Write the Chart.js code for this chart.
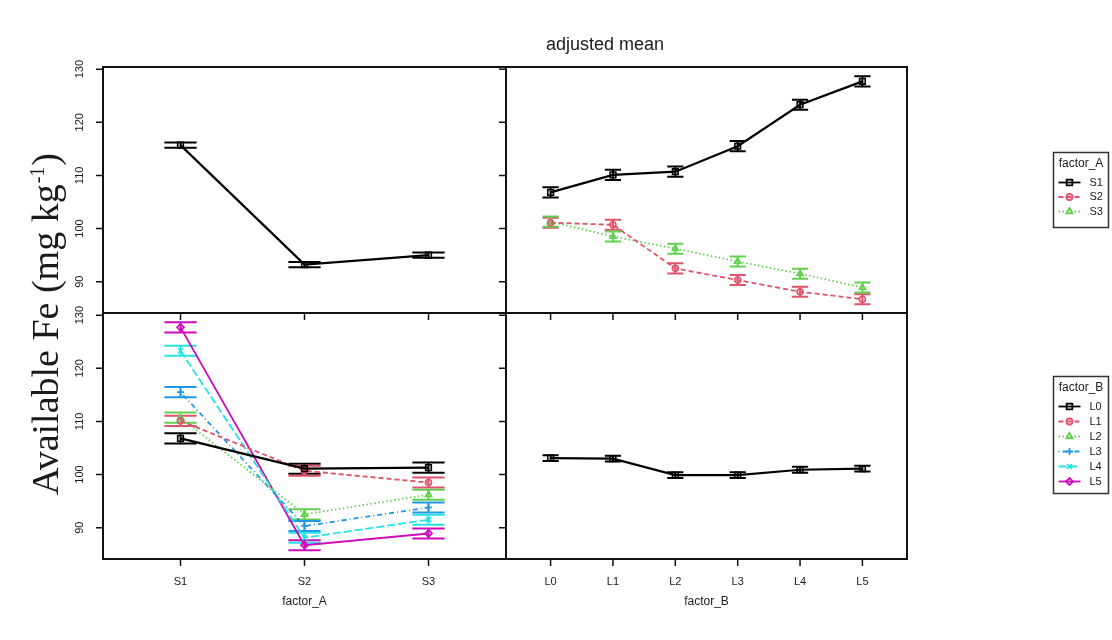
<!DOCTYPE html>
<html>
<head>
<meta charset="utf-8">
<title>adjusted mean</title>
<script src="https://cdn.jsdelivr.net/npm/chart.js@4.4.1/dist/chart.umd.min.js"></script>
<style>
  html, body { margin: 0; padding: 0; background: #fff; }
  #wrap { position: relative; width: 1112px; height: 640px; }
  #wrap canvas { position: absolute; left: 0; top: 0; }
</style>
</head>
<body>
<div id="wrap">
  <canvas id="pTL" width="1112" height="640"></canvas>
  <canvas id="pTR" width="1112" height="640"></canvas>
  <canvas id="pBL" width="1112" height="640"></canvas>
  <canvas id="pBR" width="1112" height="640"></canvas>
</div>
<script>
// levels and ticks
const factorA = ['S1', 'S2', 'S3'];
const factorB = ['L0', 'L1', 'L2', 'L3', 'L4', 'L5'];
const yTicks = [90, 100, 110, 120, 130];

// main effect of factor_A (top left)
const meanA = [115.7, 93.2, 95.0];
const seA = [0.5, 0.5, 0.5];

// main effect of factor_B (bottom right)
const meanB = [103.1, 103.0, 99.9, 99.9, 100.9, 101.1];
const seB = [0.55, 0.55, 0.55, 0.55, 0.55, 0.55];

// cell means, one row per level of factor_A over L0..L5 (top right)
const cellS1 = [106.8, 110.1, 110.7, 115.5, 123.3, 127.7];
const cellS2 = [101.1, 100.7, 92.5, 90.3, 88.1, 86.7];
const cellS3 = [101.3, 98.5, 96.2, 93.8, 91.5, 88.9];
const cellSE = [0.95, 0.95, 0.95, 0.95, 0.95, 0.95];

// line styles in lattice order
const colors = ['#000000', '#DF536B', '#61D04F', '#2297E6', '#28E2E5', '#CD0BBC'];
const points = ['rect', 'circle', 'triangle', 'cross', 'crossRot', 'rectRot'];
const radii = [4, 3, 3.5, 3.5, 3.5, 3.5];
const dashes = [[], [5, 3], [1.5, 2.5], [1, 3, 5, 3], [8, 3], []];

const W = 1112, H = 640;
const Y_MIN = 84.1, Y_MAX = 130.4;
const PANELS = {
  TL: { x0: 103, y0: 67, x1: 506, y1: 313 },
  TR: { x0: 506, y0: 67, x1: 907, y1: 313 },
  BL: { x0: 103, y0: 313, x1: 506, y1: 559 },
  BR: { x0: 506, y0: 313, x1: 907, y1: 559 }
};
const SANS = '"Liberation Sans", Arial, Helvetica, sans-serif';
const SERIF = '"Liberation Serif", "Times New Roman", serif';

function style(k, values, se) {
  return { values, se, color: colors[k], point: points[k], radius: radii[k], dash: dashes[k], width: k === 0 ? 2.2 : 1.8 };
}

const errorBars = {
  id: 'errorBars',
  beforeDatasetsDraw(chart, args, opts) {
    const ctx = chart.ctx, xs = chart.scales.x, ys = chart.scales.y;
    chart.data.datasets.forEach(ds => {
      ctx.save();
      ctx.strokeStyle = ds.borderColor;
      ctx.lineWidth = 2;
      ds.data.forEach((p, i) => {
        const se = ds.se[i];
        const x = xs.getPixelForValue(p.x);
        const xl = xs.getPixelForValue(p.x - opts.cap);
        const xr = xs.getPixelForValue(p.x + opts.cap);
        const yt = ys.getPixelForValue(p.y + se);
        const yb = ys.getPixelForValue(p.y - se);
        ctx.beginPath();
        ctx.moveTo(x, yt); ctx.lineTo(x, yb);
        ctx.moveTo(xl, yt); ctx.lineTo(xr, yt);
        ctx.moveTo(xl, yb); ctx.lineTo(xr, yb);
        ctx.stroke();
      });
      ctx.restore();
    });
  }
};

const panelDecor = {
  id: 'panelDecor',
  afterDraw(chart, args, opts) {
    const ctx = chart.ctx, a = chart.chartArea, xs = chart.scales.x, ys = chart.scales.y;
    ctx.save();
    ctx.strokeStyle = '#111';
    ctx.lineWidth = 1.5;
    ctx.beginPath();
    yTicks.forEach(t => {
      const y = ys.getPixelForValue(t);
      ctx.moveTo(a.left - 7, y); ctx.lineTo(a.left, y);
    });
    opts.labels.forEach((l, i) => {
      const x = xs.getPixelForValue(i);
      ctx.moveTo(x, a.bottom); ctx.lineTo(x, a.bottom + 7);
    });
    ctx.stroke();
    ctx.lineWidth = 2;
    ctx.strokeRect(a.left, a.top, a.right - a.left, a.bottom - a.top);

    ctx.fillStyle = '#1a1a1a';
    ctx.textAlign = 'center';
    ctx.textBaseline = 'middle';
    if (opts.showYLabels) {
      ctx.font = '11px ' + SANS;
      yTicks.forEach(t => {
        ctx.save();
        ctx.translate(a.left - 23, ys.getPixelForValue(t));
        ctx.rotate(-Math.PI / 2);
        ctx.fillText(String(t), 0, 0);
        ctx.restore();
      });
    }
    if (opts.axisTitle) {
      ctx.font = '11px ' + SANS;
      opts.labels.forEach((l, i) => ctx.fillText(l, xs.getPixelForValue(i), a.bottom + 23));
      ctx.font = '12px ' + SANS;
      ctx.fillText(opts.axisTitle, (a.left + a.right) / 2, a.bottom + 43);
    }
    ctx.restore();
  }
};

function drawMarker(ctx, style, radius, x, y) {
  if (Chart.helpers && Chart.helpers.drawPoint) {
    Chart.helpers.drawPoint(ctx, { pointStyle: style, radius, borderWidth: 1.5, rotation: 0 }, x, y);
  } else {
    ctx.beginPath(); ctx.arc(x, y, radius, 0, Math.PI * 2); ctx.stroke();
  }
}

function drawLegend(ctx, box, title, labels, rowY0, rowStep) {
  ctx.save();
  ctx.strokeStyle = '#333';
  ctx.lineWidth = 1.5;
  ctx.strokeRect(box.x, box.y, box.w, box.h);
  ctx.fillStyle = '#1a1a1a';
  ctx.font = '12px ' + SANS;
  ctx.textAlign = 'center';
  ctx.textBaseline = 'middle';
  ctx.fillText(title, box.x + box.w / 2, box.y + 11);
  labels.forEach((l, k) => {
    const y = rowY0 + k * rowStep;
    ctx.strokeStyle = colors[k];
    ctx.lineWidth = 1.8;
    ctx.setLineDash(dashes[k]);
    ctx.beginPath(); ctx.moveTo(box.x + 5, y); ctx.lineTo(box.x + 27, y); ctx.stroke();
    ctx.setLineDash([]);
    ctx.fillStyle = 'rgba(0,0,0,0)';
    drawMarker(ctx, points[k], radii[k], box.x + 16, y);
    ctx.fillStyle = '#1a1a1a';
    ctx.font = '11px ' + SANS;
    ctx.textAlign = 'left';
    ctx.fillText(l, box.x + 36, y);
  });
  ctx.restore();
}

const pageDecor = {
  id: 'pageDecor',
  afterDraw(chart) {
    const ctx = chart.ctx;
    ctx.save();
    ctx.fillStyle = '#1a1a1a';
    ctx.font = '18px ' + SANS;
    ctx.textAlign = 'center';
    ctx.textBaseline = 'alphabetic';
    ctx.fillText('adjusted mean', 605, 50);

    // y axis title with superscript
    ctx.translate(58, 325);
    ctx.rotate(-Math.PI / 2);
    ctx.textAlign = 'left';
    const main = 'Available Fe (mg kg', sup = '-1', tail = ')';
    ctx.font = '38px ' + SERIF;
    const wMain = ctx.measureText(main).width, wTail = ctx.measureText(tail).width;
    ctx.font = '20px ' + SERIF;
    const wSup = ctx.measureText(sup).width;
    let x = -(wMain + wSup + wTail) / 2;
    ctx.font = '38px ' + SERIF;
    ctx.fillText(main, x, 0); x += wMain;
    ctx.font = '20px ' + SERIF;
    ctx.fillText(sup, x + 1, -14); x += wSup + 2;
    ctx.font = '38px ' + SERIF;
    ctx.fillText(tail, x, 0);
    ctx.restore();

    drawLegend(ctx, { x: 1053.5, y: 152.5, w: 55, h: 75 }, 'factor_A', factorA, 182.5, 14.5);
    drawLegend(ctx, { x: 1053.5, y: 376.5, w: 55, h: 117 }, 'factor_B', factorB, 406.5, 15);
  }
};

function panel(canvasId, rect, labels, xPad, series, decor, extra) {
  const datasets = series.map(s => ({
    data: s.values.map((v, i) => ({ x: i, y: v })),
    se: s.se,
    borderColor: s.color,
    borderWidth: s.width,
    borderDash: s.dash,
    pointStyle: s.point,
    pointRadius: s.radius,
    pointBorderColor: s.color,
    pointBackgroundColor: 'rgba(0,0,0,0)',
    pointBorderWidth: 1.6,
    tension: 0,
    clip: false
  }));
  return new Chart(document.getElementById(canvasId), {
    type: 'line',
    data: { datasets },
    options: {
      responsive: false,
      animation: false,
      devicePixelRatio: 1,
      events: [],
      layout: { padding: { left: rect.x0, top: rect.y0, right: W - rect.x1, bottom: H - rect.y1 } },
      scales: {
        x: { type: 'linear', display: false, min: -xPad, max: labels.length - 1 + xPad },
        y: { type: 'linear', display: false, min: Y_MIN, max: Y_MAX }
      },
      plugins: {
        legend: { display: false },
        tooltip: { enabled: false },
        errorBars: { cap: 0.13 },
        panelDecor: Object.assign({ labels }, decor)
      }
    },
    plugins: [errorBars, panelDecor].concat(extra || [])
  });
}

const cells = [cellS1, cellS2, cellS3];

panel('pTL', PANELS.TL, factorA, 0.625,
  [style(0, meanA, seA)],
  { showYLabels: true }, [pageDecor]);

panel('pTR', PANELS.TR, factorB, 0.715,
  cells.map((c, k) => style(k, c, cellSE)),
  { showYLabels: false });

panel('pBL', PANELS.BL, factorA, 0.625,
  factorB.map((l, k) => style(k, cells.map(c => c[k]), cells.map(() => cellSE[k]))),
  { showYLabels: true, axisTitle: 'factor_A' });

panel('pBR', PANELS.BR, factorB, 0.715,
  [style(0, meanB, seB)],
  { showYLabels: false, axisTitle: 'factor_B' });
</script>
</body>
</html>
